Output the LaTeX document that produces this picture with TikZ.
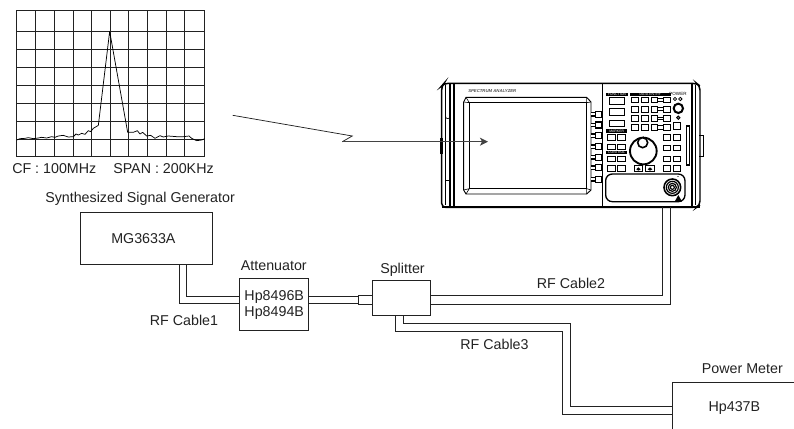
\documentclass[tikz,border=0pt]{standalone}
\usepackage{fontspec}
\setmainfont{Liberation Sans}
\usetikzlibrary{arrows.meta}
\definecolor{ink}{HTML}{222222}
\tikzset{
  lbl/.style={inner sep=0pt,text=ink,font=\fontsize{10.7}{12}\selectfont},
  boxn/.style={draw=ink,line width=0.6pt,anchor=north west,inner sep=0pt,align=center,text=ink,font=\fontsize{10.7}{12}\selectfont},
  cable/.style={draw=ink,line width=0.65pt,line join=miter},
  grd/.style={draw=ink,line width=0.6pt},
  trace/.style={draw=black,line width=0.55pt,line join=round},
  bld/.style={draw=black,line width=1.1pt},
  thn/.style={draw=black,line width=0.45pt},
  key/.style={draw=black,line width=0.75pt,fill=white},
  barf/.style={fill=black,draw=none},
  tiny/.style={inner sep=0pt,font=\fontsize{2.6}{3}\selectfont}
}
\newcommand{\keyrc}[4]{\draw[key] (#1,#3) rectangle (#2,#4);}
\begin{document}
\begin{tikzpicture}[x=0.75pt,y=-0.75pt]
\useasboundingbox (0,0) rectangle (794,429);
% spectrum display
\foreach \v in {16.3,35.7,54.3,73,91.7,110.3,128.7,147.3,166,184.7,204.7}
  \draw[grd] (\v,10.3) -- (\v,156);
\foreach \h in {10.3,31.3,49.3,67.3,85.3,103.3,121.3,139.3,156}
  \draw[grd] (16.3,\h) -- (204.7,\h);
\begin{scope}[x=0.25pt,y=-0.25pt]
\draw[trace] (50,420)--(60,416)--(75,415)--(85,413)--(100,416)--(115,414)--(125,412)--(140,414)--(155,410)--(165,412)--(175,408)--(190,406)--(205,411)--(220,410)--(228,402)--(235,405)--(245,400)--(255,403)--(265,392)--(272,395)--(280,385)--(295,376)--(329,94)--(383,397)--(400,397)--(412,392)--(420,402)--(428,397)--(440,408)--(452,406)--(465,415)--(480,407)--(490,411)--(505,408)--(530,410)--(550,410)--(567,408)--(575,415)--(590,422)--(605,420)--(614,416);
\end{scope}
\node[lbl,anchor=west] (cf) at (12,169) {CF : 100MHz};
\node[lbl,anchor=west] (span) at (113,169) {SPAN : 200KHz};
% analyzer (reference zoom coordinates: origin 430,70, 3x)
\begin{scope}[shift={(430,70)},x=0.25pt,y=-0.25pt]
 % body
 \draw[bld,rounded corners=3pt] (35,412) -- (35,48) -- (42,40) -- (800,40) -- (810,48) -- (810,405) -- (800,412) -- cycle;
 \draw[line width=1.3pt] (35,410) -- (810,410);
 \draw[thn] (47,44) -- (47,406);
 \draw[bld] (60,42) -- (60,408);
 \draw[bld] (72,42) -- (72,408);
 \draw[bld] (518,42) -- (518,408);
 \draw[bld] (786,42) -- (786,408);
 \draw[thn] (797,44) -- (797,406);
 \draw[line width=1.8pt] (34,205) -- (34,252);
 \draw[thn] (47,155) -- (47,140) arc(180:0:6) -- (59,155);
 \draw[thn] (47,340) -- (47,330) -- (59,330) -- (59,340);
 \draw[thn] (808,197) -- (820,197) -- (820,260) -- (808,260);
 \draw[bld] (770,168) rectangle (778,285);
 % bezel
 \draw[line width=0.7pt] (108,82) -- (470,82) -- (483,96) -- (483,360) -- (470,372) -- (108,372) -- (101,360) -- (101,96) -- cycle;
 \draw[line width=0.7pt] (118,98) rectangle (470,356);
 \draw[thn] (101,96) -- (118,98) (483,96) -- (470,98) (101,360) -- (118,356) (483,360) -- (470,356) (108,82) -- (118,98) (470,82) -- (470,98) (108,372) -- (118,356) (470,372) -- (470,356);
 \node[tiny,anchor=west,font=\fontsize{3.2}{4}\selectfont\bfseries\itshape,text=ink!80] (title) at (114,63) {SPECTRUM ANALYZER};
 % soft keys
 \foreach \y in {133,165,197,230,262,293,328}{
   \draw[line width=0.8pt,fill=white] (483,\y-5) -- (500,\y-5) -- (500,\y+5) -- (483,\y+5);
   \draw[line width=0.8pt,fill=white] (497,\y-9) -- (516,\y-9) -- (516,\y+9) -- (497,\y+9) -- cycle;
 }
 % function
 \fill[barf] (527,68) rectangle (595,78);
 \node[tiny,text=white] (fn) at (561,73) {FUNCTION};
 \foreach \a/\b in {82/102,115/137,150/170} { \keyrc{537}{583}{\a}{\b} }
 % data entry
 \fill[barf] (600,68) rectangle (722,78);
 \node[tiny,text=white] (de) at (661,73) {DATA ENTRY};
 \foreach \a/\b in {82/98,109/126,137/153,163/181}{
   \keyrc{605}{625}{\a}{\b} \keyrc{635}{655}{\a}{\b} \keyrc{663}{683}{\a}{\b} \keyrc{700}{722}{\a}{\b}
   \draw[thn] (685,\a+4) -- (698,\a+4) (685,\b-4) -- (698,\b-4);
 }
 \node[tiny,font=\fontsize{3.4}{4}\selectfont] (pw) at (744,72) {POWER};
 \draw[line width=0.6pt] (735,87) circle (5) (751,87) circle (5);
 \draw[line width=1.5pt] (745,115) circle (14);
 \draw[line width=0.7pt,fill=gray] (745,143) circle (5);
 \keyrc{730}{752}{157}{177}
 % marker, control
 \fill[barf] (527,178) rectangle (592,188);
 \node[tiny,text=white] (mk) at (560,183) {MARKER};
 \fill[barf] (527,243) rectangle (592,253);
 \node[tiny,text=white] (ct) at (560,248) {CONTROL};
 \foreach \a/\b in {193/210,222/239,258/275,287/304}{
   \keyrc{533}{557}{\a}{\b} \keyrc{563}{587}{\a}{\b}
 }
 \foreach \a/\b in {193/210,225/242,258/275,287/304}{
   \keyrc{700}{722}{\a}{\b} \keyrc{730}{752}{\a}{\b}
 }
 % knob
 \draw[line width=1.4pt] (640,243) circle (40);
 \draw[line width=1.2pt,fill=white] (638,218) circle (15);
 \fill (640,202) circle (3);
 \keyrc{612}{638}{285}{305} \keyrc{647}{673}{285}{305}
 \fill (625,292) -- (632,298) -- (625,302) -- (619,298) -- cycle;
 \fill (660,292) -- (667,298) -- (660,302) -- (653,298) -- cycle;
 % connector panel
 \draw[line width=1pt,rounded corners=5pt] (527,312) rectangle (765,395);
 \foreach \r/\w in {25/1.2,18/0.9,12/0.9,6/0.9}
   \draw[line width=\w pt] (727,352) circle (\r);
 \fill (745,375) -- (756,395) -- (734,395) -- cycle;
 \fill[gray] (742,318) rectangle (748,322);
\end{scope}
% boxes
\node[boxn,minimum width=99pt,minimum height=38.8pt] (gen) at (80,212) {MG3633A\hspace{4.5pt}};
\node[boxn,minimum width=51.8pt,minimum height=38.8pt] (att) at (239.3,278.3) {Hp8496B\\[0pt]Hp8494B};
\node[boxn,minimum width=43.2pt,minimum height=26.2pt] (spl) at (372.3,280.3) {};
\node[boxn,minimum width=92.5pt,minimum height=39pt] (pm) at (672.3,381.7) {Hp437B};
% labels
\node[lbl,anchor=west] (l1) at (45,199) {Synthesized Signal Generator};
\node[lbl] (l2) at (273.8,266) {Attenuator};
\node[lbl] (l3) at (402.5,270) {Splitter};
\node[lbl] (l4) at (184,320) {RF Cable1};
\node[lbl] (l5) at (571,283) {RF Cable2};
\node[lbl] (l6) at (494.5,344) {RF Cable3};
\node[lbl,anchor=west] (l7) at (701.7,369) {Power Meter};
% analyzer anchor for cable 2
\coordinate (ana) at (666,207);
% cable 1
\coordinate (c1o) at (179,303.3);
\coordinate (c1i) at (186.3,296.3);
\draw[cable] (gen.south -| c1o) -- (c1o) -- (att.west |- c1o);
\draw[cable] (gen.south -| c1i) -- (c1i) -- (att.west |- c1i);
% attenuator to splitter
\coordinate (t1) at (358.7,295.3);
\coordinate (t2) at (358.7,304.3);
\coordinate (a1) at (308,296.3);
\coordinate (a2) at (308,303.3);
\draw[cable] (att.east |- a1) -- (t1 |- a1);
\draw[cable] (att.east |- a2) -- (t1 |- a2);
\draw[cable] (spl.west |- t1) -- (t1) -- (t2) -- (spl.west |- t2);
% cable 2
\coordinate (c2i) at (662.3,295.7);
\coordinate (c2o) at (670.3,304.3);
\draw[cable] (spl.east |- c2i) -- (c2i) -- (c2i |- ana);
\draw[cable] (spl.east |- c2o) -- (c2o) -- (c2o |- ana);
% cable 3
\coordinate (c3a) at (403,323.7);
\coordinate (c3b) at (395.7,331.7);
\coordinate (c3c) at (570.7,406.7);
\coordinate (c3d) at (562.7,414.7);
\draw[cable] (spl.south -| c3a) -- (c3a) -- (c3c |- c3a) -- (c3c) -- (pm.west |- c3c);
\draw[cable] (spl.south -| c3b) -- (c3b) -- (c3d |- c3b) -- (c3d) -- (pm.west |- c3d);
% pointer
\coordinate (p1) at (232.7,115.3);
\coordinate (p2) at (352.3,136);
\coordinate (p3) at (342.3,141.7);
\coordinate (p4) at (488,141.7);
\draw[draw=ink,line width=0.55pt] (p1) -- (p2) -- (p3);
\draw[draw=ink!85,line width=0.7pt,-{Stealth[length=6pt,width=6pt,inset=1.5pt]}] (p3) -- (p4);
\end{tikzpicture}
\end{document}
